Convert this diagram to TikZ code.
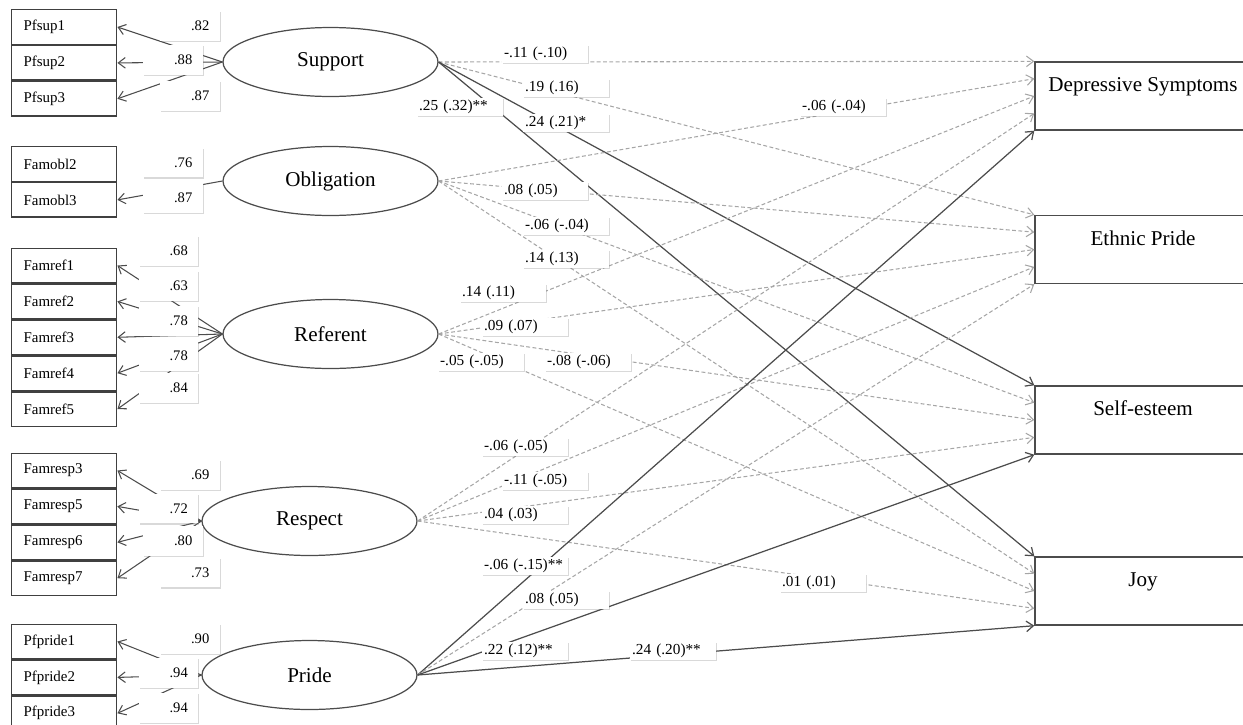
\documentclass[tikz,border=0pt]{standalone}
\usepackage{fontspec}
\setmainfont{Liberation Serif}
\usetikzlibrary{positioning,shapes.geometric,arrows.meta,calc,shadows}

\begin{document}
\begin{tikzpicture}[x=0.02cm,y=-0.02cm,
	ind/.style={draw=black!75, line width=0.8pt, minimum height=0.69cm, text width=46pt, inner xsep=7pt, inner ysep=0pt, align=left, font=\fontsize{8.5}{10}\selectfont},
	lat/.style={ellipse, draw=black!70, line width=0.7pt, minimum width=4.3cm, minimum height=1.38cm, inner sep=0pt, font=\fontsize{12}{14}\selectfont},
	outc/.style={draw=black!70, line width=0.8pt, minimum width=4.32cm, minimum height=1.36cm, inner sep=0pt, text height=9pt, text depth=14pt, font=\fontsize{12}{14}\selectfont},
	load/.style={fill=white, text width=22pt, align=right, inner xsep=6pt, inner ysep=0pt, minimum height=17pt, font=\fontsize{8.3}{10}\selectfont, drop shadow={shadow xshift=0.5pt, shadow yshift=-0.7pt, opacity=0.3, fill=black!50}},
	coef/.style={fill=white, anchor=west, text width=47pt, align=left, inner xsep=1pt, inner ysep=0pt, minimum height=10.5pt, font=\fontsize{8.7}{10}\selectfont, drop shadow={shadow xshift=0.5pt, shadow yshift=-0.7pt, opacity=0.3, fill=black!50}},
	ldarrow/.style={draw=black!70, line width=0.6pt, -{Straight Barb[length=4pt,width=6pt]}},
	sig/.style={draw=black!70, line width=0.7pt, -{Straight Barb[length=4pt,width=6pt]}},
	nsig/.style={draw=black!35, line width=0.6pt, dash pattern=on 2.2pt off 1.4pt, -{Straight Barb[length=4pt,width=6pt]}}]
	\useasboundingbox (0,0) rectangle (1243,724);
	
	%Indicators
	\node[ind] (pfsup1) at (64,27) {Pfsup1};
	\foreach \a/\b in {1/2,2/3}
	\node[ind, below=0pt of pfsup\a] (pfsup\b) {Pfsup\b};
	\node[ind] (famobl2) at (64,164) {Famobl2};
	\node[ind, below=0pt of famobl2] (famobl3) {Famobl3};
	\node[ind] (famref1) at (64,265.5) {Famref1};
	\foreach \a/\b in {1/2,2/3,3/4,4/5}
	\node[ind, below=0pt of famref\a] (famref\b) {Famref\b};
	\node[ind] (famresp3) at (64,470.5) {Famresp3};
	\foreach \a/\b in {3/5,5/6,6/7}
	\node[ind, below=0pt of famresp\a] (famresp\b) {Famresp\b};
	\node[ind] (pfpride1) at (64,641.5) {Pfpride1};
	\foreach \a/\b in {1/2,2/3}
	\node[ind, below=0pt of pfpride\a] (pfpride\b) {Pfpride\b};
	
	%Latent factors
	\node[lat] (sup) at (330.5,62) {Support};
	\node[lat] (obl) at (330.5,181) {Obligation};
	\node[lat] (ref) at (330.5,334) {Referent};
	\node[lat] (resp) at (309.5,521) {Respect};
	\node[lat] (prd) at (309.5,675) {Pride};
	
	%Outcomes
	\node[outc] (dep) at (1143,96) {Depressive Symptoms};
	\node[outc] (eth) at (1143,249.5) {Ethnic Pride};
	\node[outc] (self) at (1143,420) {Self-esteem};
	\node[outc] (joy) at (1143,591) {Joy};
	
	%Loadings
	\foreach \i in {1,2,3}
	\draw[ldarrow] (sup.west) -- (pfsup\i.east);
	\draw[ldarrow] (obl.west) -- (famobl3.east);
	\foreach \i in {1,...,5}
	\draw[ldarrow] (ref.west) -- (famref\i.east);
	\foreach \i in {3,5,6,7}
	\draw[ldarrow] (resp.west) -- (famresp\i.east);
	\foreach \i in {1,2,3}
	\draw[ldarrow] (prd.west) -- (pfpride\i.east);
	
	\foreach \v/\x/\y [count=\n] in {.82/190/26, .88/173/60, .87/190/96, .76/173/162.5, .87/173/198,
		.68/168.5/251, .63/168.5/286, .78/168.5/321, .78/168.5/356, .84/168.5/388,
		.69/190/475, .72/168.5/508.5, .80/173/541, .73/190/572.5,
		.90/190/639, .94/168.5/673, .94/168.5/708}
	\node[load] (ld\n) at (\x,\y) {\v};
	
	%Paths to outcomes
	\foreach \s/\t/\k/\st in {sup/dep/0/nsig, sup/eth/0/nsig, sup/self/0/sig, sup/joy/0/sig,
		obl/dep/0.25/nsig, obl/eth/0.25/nsig, obl/self/0.25/nsig, obl/joy/0.25/nsig,
		ref/dep/0.5/nsig, ref/eth/0.5/nsig, ref/self/0.5/nsig, ref/joy/0.5/nsig,
		resp/dep/0.75/nsig, resp/eth/0.75/nsig, resp/self/0.75/nsig, resp/joy/0.75/nsig,
		prd/dep/1/sig, prd/eth/1/nsig, prd/self/1/sig, prd/joy/1/sig}
	\draw[\st] (\s.east) -- ($(\t.north west)!\k!(\t.south west)$);
	
	\foreach \v/\x/\y [count=\n] in {-.11 (-.10)/502/54, .19 (.16)/523/88, .25 (.32)**/417/107, .24 (.21)*/523/123,
		-.06 (-.04)/800/107, .08 (.05)/502/191, -.06 (-.04)/523/226, .14 (.13)/523/259,
		.14 (.11)/460/293, .09 (.07)/482/327, -.05 (-.05)/438/362, -.08 (-.06)/545/362,
		-.06 (-.05)/482/447, -.11 (-.05)/502/481, .04 (.03)/482/515, -.06 (-.15)**/482/566,
		.01 (.01)/780/583, .08 (.05)/523/600, .22 (.12)**/482/651, .24 (.20)**/630/651}
	\node[coef] (cf\n) at (\x,\y) {\v};
\end{tikzpicture}
\end{document}
